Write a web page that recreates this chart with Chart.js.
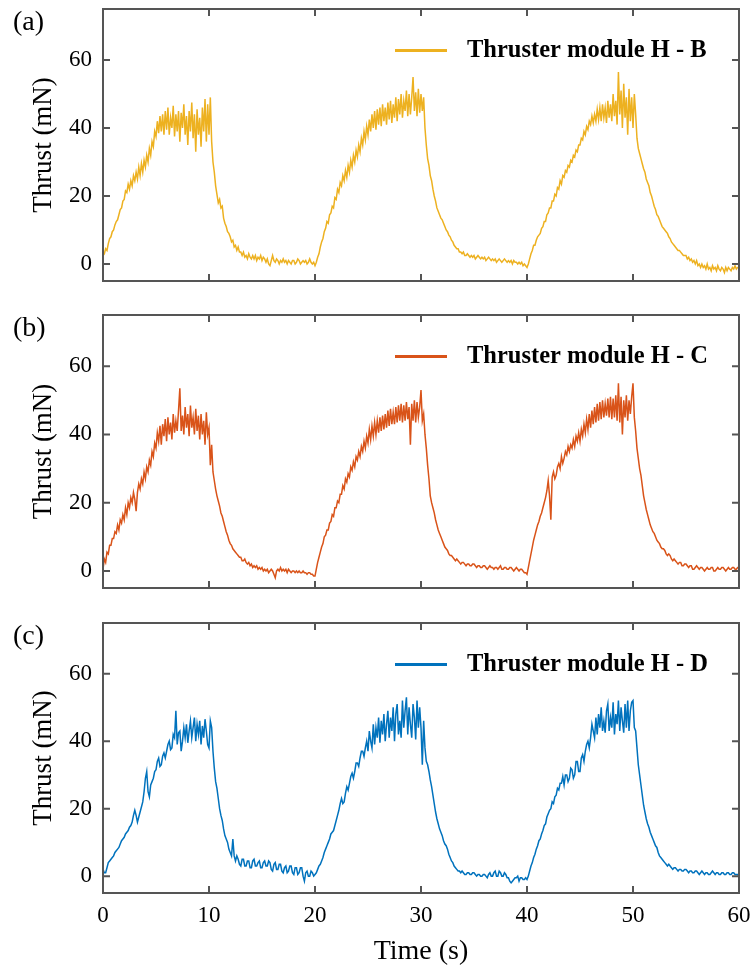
<!DOCTYPE html>
<html>
<head>
<meta charset="utf-8">
<script src="https://cdn.jsdelivr.net/npm/chart.js@4.4.1/dist/chart.umd.min.js"></script>
<style>
  body { margin: 0; background: #fff; }
  #wrap { position: relative; width: 751px; height: 974px; }
  #wrap canvas { position: absolute; left: 0; }
</style>
</head>
<body>
<div id="wrap">
  <canvas id="panelA" width="751" height="300" style="top:0px"></canvas>
  <canvas id="panelB" width="751" height="300" style="top:300px"></canvas>
  <canvas id="panelC" width="751" height="374" style="top:600px"></canvas>
</div>
<script>
// sampling: one value every 0.125 s, from 0 to 60 s (10 values per line)
const sampleStep = 0.125;
const xTicks = [0, 10, 20, 30, 40, 50, 60];
const yTicks = [0, 20, 40, 60];
const panelTags = ["(a)", "(b)", "(c)"];
const seriesNames = ["Thruster module H - B", "Thruster module H - C", "Thruster module H - D"];
const seriesColors = ["#EDB120", "#D95319", "#0072BD"];

// Thrust (mN)
const thrustB = [
  2.5, 3, 4.5, 4, 6, 7.5, 8, 9.5, 10, 11.5,
  12.5, 13, 14.5, 16, 16.5, 18.5, 19, 21.5, 21, 23.5,
  22, 24.5, 23, 26, 24.5, 27, 25, 28.5, 26, 29.5,
  27, 30.5, 28.5, 32, 30, 34, 32, 36, 34.5, 39,
  37.5, 42, 38.5, 43.5, 39, 44, 38, 45, 39.5, 46,
  38, 43, 40, 46.5, 37.5, 44, 39, 45, 36, 44.5,
  40, 47, 38, 43.5, 35, 45, 39, 47.5, 37, 44,
  33, 45.5, 38, 43, 34.5, 46, 39, 48.5, 36, 47,
  38, 49, 36, 30, 27, 23, 20.5, 18, 19, 16.5,
  17, 13.5, 12, 11, 9.5, 9, 8, 6.5, 7, 5,
  5.5, 4, 5, 3.5, 3.5, 2.5, 3.5, 2, 2.5, 1.5,
  3, 2, 1.5, 2.5, 1.5, 2.5, 1, 2, 1.5, 2.5,
  1, 2, 1.5, 0.5, 1.5, 0, -0.5, 1, 2.5, 1,
  0.5, 1.5, 1, 0, 1, 0.5, 1.5, 0.5, 1, 0,
  1, 0.5, 0, 1, 1, 0, 0.5, 1.5, 1, 0,
  0.5, 1, 0.5, 1, 0, 0.5, 1.5, 0.5, 0, 0.5,
  -0.5, 0.5, 2, 3, 5, 6.5, 7.5, 9.5, 10.5, 12.5,
  12, 14.5, 15, 17, 16.5, 19.5, 19, 22, 21, 24,
  23, 26, 24.5, 27.5, 25.5, 29, 27, 30.5, 28.5, 32,
  30, 33.5, 31.5, 35, 33, 37, 35, 39, 36.5, 40.5,
  38, 42.5, 39, 44, 40, 45, 39.5, 45.5, 41, 46,
  40.5, 47, 42, 46, 41, 47.5, 42.5, 48, 41.5, 47,
  43, 49, 42, 48.5, 44, 50, 43, 48, 45, 51,
  43.5, 50, 44, 49, 55, 45, 50.5, 43.5, 51.5, 44.5,
  50, 45, 49, 40, 35, 31, 29, 26, 24.5, 22,
  20, 18.5, 16.5, 15.5, 14.5, 13.5, 13, 12, 11, 10,
  9.5, 8.5, 8, 7, 6.5, 5.5, 5, 4.5, 4.5, 3.5,
  3.5, 3, 3.5, 2.5, 2.5, 3, 2.5, 2, 2.5, 2,
  2.5, 1.5, 2, 2.5, 2, 1.5, 2, 1.5, 2, 1,
  1.5, 2, 1.5, 1, 1.5, 1, 1.5, 0.5, 1, 1.5,
  1, 0.5, 1, 1.5, 1, 0.5, 1, 0.5, 1, 0,
  1, 0.5, 0.5, 0, 0.5, 0, 0.5, -0.5, 0, -0.5,
  -1, 0, 1.5, 3, 4, 5.5, 5.5, 7, 8, 8.5,
  9, 10.5, 11, 12.5, 12.5, 14.5, 15, 16.5, 16.5, 18.5,
  18.5, 20.5, 20, 22.5, 22, 24.5, 23.5, 26, 25.5, 27.5,
  27, 29, 28.5, 30.5, 30, 32, 31.5, 33.5, 33, 35,
  35, 37, 36.5, 39, 38, 40.5, 39.5, 42, 41, 43.5,
  41.5, 44, 42, 45.5, 42.5, 46, 42, 47, 43, 46,
  41.5, 48, 43, 47, 42, 50, 43.5, 48, 41, 56.5,
  44, 51, 40, 53, 43, 49, 38, 51.5, 42, 49,
  40, 50, 44, 37, 34, 32.5, 31, 29.5, 28, 27,
  25, 24, 23, 21, 20, 18.5, 17, 16, 14.5, 14,
  13, 12, 11, 10.5, 10, 9.5, 9, 8, 7.5, 6.5,
  6, 5.5, 5, 4.5, 4, 4, 3.5, 3, 2.5, 2.5,
  2.5, 1.5, 2, 1, 1.5, 0.5, 1, 0, 1, -0.5,
  0, -1, 0, -1, -0.5, -1.5, 0, -1.5, -1, -2,
  -0.5, -1.5, -1, -2, -0.5, -1.5, -2, -1, -1.5, -2.5,
  -1, -2, -1, -1.5, -2, -1, -1.5, -0.5, -1.5, -1,
  -1
];

const thrustC = [
  0.5, 3.5, 2.5, 5.5, 5, 7.5, 7.5, 9.5, 9.5, 11.5,
  11, 13.5, 12, 15, 14, 16.5, 15, 18.5, 16.5, 20,
  18.5, 21.5, 20, 23, 21, 17.5, 23, 25.5, 24, 27,
  25.5, 29, 27, 30.5, 29, 32.5, 31, 35, 33.5, 37.5,
  36, 40.5, 38, 42.5, 37, 43, 39.5, 44.5, 38, 45,
  40, 43.5, 38.5, 46, 40.5, 44, 41, 47, 53.5, 41,
  45.5, 40, 48, 42, 46, 39.5, 48.5, 42, 45, 40,
  47.5, 41, 45.5, 38.5, 46, 40, 44, 37, 46.5, 40,
  42, 31, 37, 29, 26.5, 24, 22, 20.5, 19, 17,
  16, 14.5, 13, 11.5, 10.5, 9, 8, 7.5, 6.5, 6,
  5.5, 5, 4.5, 4, 4, 3, 3, 3.5, 2.5, 2,
  2.5, 1.5, 2, 1, 1.5, 1, 1.5, 0.5, 1, 0.5,
  1, 0, 0.5, 0, 0.5, -0.5, 0, 0.5, 0, -1,
  -2, 0, 0.5, 0, 1, 0, 0.5, 0, 0.5, -0.5,
  0.5, 0, -0.5, 0, 0, -0.5, 0, -0.5, 0, -0.5,
  -0.5, 0, -0.5, -0.5, -1, -0.5, -0.5, -1, -1, -1.5,
  -1.5, 0.5, 2.5, 4, 5.5, 7, 8, 10, 10.5, 12,
  12, 14, 14.5, 16.5, 16, 18.5, 18.5, 20.5, 20, 22.5,
  22.5, 25, 24, 27, 26, 28.5, 27.5, 30.5, 29.5, 32,
  30.5, 33.5, 32.5, 35, 33.5, 36.5, 35, 38, 36, 39.5,
  37.5, 41.5, 38.5, 42.5, 39.5, 43.5, 40, 44, 40.5, 45,
  41, 45.5, 41.5, 46, 42, 47, 42.5, 47.5, 43, 46.5,
  43, 48, 43.5, 48.5, 44, 49, 43.5, 48.5, 44, 49.5,
  44.5, 48, 37, 49, 44, 50, 43.5, 49.5, 45, 48,
  53, 44, 46, 40, 36, 31, 27, 22, 20, 18.5,
  17, 15, 13.5, 12, 11, 10, 9, 8, 7, 6.5,
  6, 5, 4.5, 4.5, 4, 3.5, 3, 3.5, 3, 2.5,
  2, 2.5, 2.5, 2, 1.5, 2, 2, 1.5, 1.5, 2,
  2, 1.5, 1, 1.5, 1.5, 1, 1, 1.5, 1.5, 1,
  0.5, 1, 1.5, 1, 1, 0.5, 1, 1, 0.5, 1,
  1.5, 0.5, 0.5, 1, 1, 0.5, 0.5, 1, 1, 0.5,
  0, 0.5, 1, 0.5, 0, 0.5, 0.5, 0, -0.5, -0.5,
  -1, 1, 3, 5, 7, 9, 10.5, 12, 13.5, 14.5,
  16, 17, 18.5, 20, 21.5, 23.5, 26.5, 22, 15, 27.5,
  29, 27, 28, 30.5, 31.5, 30, 33.5, 31.5, 33, 35,
  34, 36.5, 35, 37, 36, 38.5, 36.5, 39.5, 38, 40.5,
  38, 41.5, 39.5, 43, 40.5, 44.5, 41.5, 46, 42, 47,
  43, 48, 43.5, 49, 44, 49.5, 44.5, 50, 45, 49,
  45.5, 50.5, 45, 51, 44.5, 50.5, 45, 51.5, 44, 55,
  43.5, 51, 40, 50, 45, 51.5, 44, 50, 46, 51,
  55, 45, 41, 36, 33, 30, 28, 25, 22, 20,
  18, 16.5, 15, 13.5, 12.5, 11.5, 11, 10, 9, 8.5,
  8, 7, 6.5, 6.5, 6, 5, 4.5, 5, 4.5, 3.5,
  3, 3.5, 3, 2.5, 2, 2.5, 2.5, 1.5, 1.5, 2,
  2, 1.5, 1, 1.5, 1.5, 0.5, 0.5, 1, 1.5, 1,
  0.5, 1, 1, 0.5, 0, 0.5, 1, 0.5, 0.5, 1,
  1, 0, 0, 0.5, 1, 0.5, 0.5, 1, 1, 0.5,
  0, 0.5, 1, 0.5, 0.5, 1, 1, 0.5, 0.5, 1,
  1
];

const thrustD = [
  2, 1, 1, 2.5, 4, 4.5, 5, 5.5, 6, 7,
  7.5, 8, 8.5, 9.5, 10.5, 11, 11.5, 12.5, 13, 13.5,
  14.5, 15, 16, 18, 19.5, 18, 16, 17.5, 19, 20.5,
  22, 25, 29, 31, 25, 23.5, 27, 28, 29, 31,
  31.5, 34, 35, 32.5, 33, 35.5, 36.5, 35, 37, 39,
  40, 37.5, 38, 42, 41, 49, 39, 42.5, 43, 37,
  40, 44, 41, 45, 39.5, 43, 46, 41, 44, 47,
  40, 45, 42, 46, 39, 44.5, 41, 46.5, 43, 39,
  38, 46, 44, 37, 32, 28, 26, 23, 20, 18,
  16.5, 14, 12, 11, 10, 8, 7, 6, 11, 6,
  4.5, 6, 5, 3.5, 3, 5, 5, 3, 3, 4.5,
  4.5, 2.5, 2.5, 4.5, 5, 3, 3, 4, 4.5, 2.5,
  2.5, 4, 4.5, 3, 3, 4.5, 4, 2, 1.5, 3.5,
  4, 2, 2, 3.5, 3.5, 1.5, 1, 2.5, 3, 1,
  1.5, 3, 3, 1, 0.5, 2.5, 2.5, 0.5, 1, 2.5,
  2.5, 0, -1.5, 1, 1.5, 0, 0, 1.5, 1, 0,
  0.5, 1, 2, 3, 3.5, 4.5, 5.5, 7, 8, 9,
  10, 11, 12.5, 13, 13.5, 15, 16.5, 18, 19.5, 21.5,
  23, 21.5, 22, 24.5, 26.5, 25.5, 27.5, 29.5, 30.5, 29,
  31, 33.5, 33.5, 32.5, 35, 37, 37, 35.5, 38, 40,
  37, 43, 40, 38, 45, 39, 44, 41, 47, 39.5,
  46, 42, 48, 40, 45, 49, 41, 47, 43, 50,
  40, 48, 51, 42, 46, 41, 52, 44, 49, 53,
  42, 50, 45, 41, 51, 47, 40.5, 52, 44, 50,
  44, 33, 46, 38, 34, 33, 31, 28.5, 26.5, 24,
  21.5, 19, 17, 15.5, 14, 13, 12, 10.5, 9.5, 9,
  8, 6.5, 5.5, 4.5, 4, 3, 2.5, 2, 1.5, 1.5,
  1, 1.5, 1, 0.5, 0.5, 1, 1, 0.5, 0.5, 1,
  1, 0.5, 0, 0.5, 0.5, 0, 0, 0.5, 0.5, 0,
  -0.5, 0.5, 1, 0, 0, 1, 1.5, 0, 0, 1.5,
  1, 0, 0, 1, 0.5, -0.5, -0.5, -1.5, -2, -1.5,
  -1, -0.5, -0.5, 0, -1.5, -0.5, -0.5, -1, -1, -0.5,
  -1, 0, 1.5, 3, 4, 5.5, 6.5, 8, 9, 10.5,
  11, 12.5, 13.5, 15, 15.5, 17.5, 18.5, 19.5, 20, 22,
  21.5, 23.5, 24, 26, 25.5, 27.5, 27.5, 29.5, 27, 30,
  30, 28, 29, 32, 31.5, 29, 30, 34, 34, 31,
  31, 35, 36, 34, 37, 39, 40, 38, 41, 45,
  43, 41, 47, 42, 48, 44, 50, 43, 46, 42.5,
  49, 51, 43, 47, 44, 51.5, 42, 48, 45, 52,
  43, 50, 46, 42.5, 51, 44, 52, 43, 49, 51.5,
  52, 44, 43, 38, 33, 30, 27, 24, 21, 19,
  17, 15.5, 14.5, 13, 12, 11, 10, 9, 8.5, 7,
  6, 5.5, 5, 4.5, 4, 3.5, 3, 3.5, 3, 2.5,
  2, 2.5, 2.5, 2, 1.5, 2, 2, 1.5, 1.5, 2,
  2, 1.5, 1, 1.5, 1.5, 1, 1, 1.5, 1.5, 1,
  0.5, 1, 1.5, 1, 0.5, 1, 1, 0.5, 0.5, 1,
  1.5, 1, 0.5, 1, 1, 0.5, 0.5, 1, 1, 0.5,
  0.5, 1, 1, 0.5, 0.5, 1, 1, 0.5, 0.5, 0.5,
  0
];

const serif = "'Liberation Serif', 'Times New Roman', serif";
const frameColor = "#555555";

// pair each value with its time
function toPoints(values) {
    return values.map((v, i) => ({ x: i * sampleStep, y: v }));
}

// box, inward ticks, panel tag and legend
const framePlugin = {
    id: "frame",
    afterDatasetsDraw(chart, args, opts) {
        const { ctx, chartArea: a } = chart;
        const xs = chart.scales.x;
        const ys = chart.scales.y;
        ctx.save();
        ctx.strokeStyle = frameColor;
        ctx.lineWidth = 2;
        ctx.strokeRect(a.left, a.top, a.right - a.left, a.bottom - a.top);

        ctx.beginPath();
        xTicks.forEach(t => {
            const px = xs.getPixelForValue(t);
            ctx.moveTo(px, a.bottom);
            ctx.lineTo(px, a.bottom - 7);
            ctx.moveTo(px, a.top);
            ctx.lineTo(px, a.top + 7);
        });
        yTicks.forEach(t => {
            const py = ys.getPixelForValue(t);
            ctx.moveTo(a.left, py);
            ctx.lineTo(a.left + 7, py);
            ctx.moveTo(a.right, py);
            ctx.lineTo(a.right - 7, py);
        });
        ctx.stroke();

        // panel tag
        ctx.fillStyle = "#000";
        ctx.font = "28px " + serif;
        ctx.textAlign = "left";
        ctx.textBaseline = "middle";
        ctx.fillText(opts.tag, 13, a.top + 14);

        // legend
        const ds = chart.data.datasets[0];
        ctx.strokeStyle = ds.borderColor;
        ctx.lineWidth = 3;
        ctx.beginPath();
        ctx.moveTo(a.left + 292, a.top + 41.5);
        ctx.lineTo(a.left + 344, a.top + 41.5);
        ctx.stroke();
        ctx.font = "bold 24.5px " + serif;
        ctx.textBaseline = "alphabetic";
        ctx.fillText(ds.label, a.left + 364, a.top + 47.5);
        ctx.restore();
    }
};

function makePanel(canvasId, values, idx, padTop, xHeight, showX) {
    const ctx = document.getElementById(canvasId).getContext("2d");
    return new Chart(ctx, {
        type: "line",
        data: {
            datasets: [{
                label: seriesNames[idx],
                data: toPoints(values),
                borderColor: seriesColors[idx],
                borderWidth: 1.5,
                pointRadius: 0,
                tension: 0,
                fill: false
            }]
        },
        options: {
            responsive: false,
            animation: false,
            layout: { padding: { top: padTop, right: 12, left: 0, bottom: 0 } },
            plugins: {
                legend: { display: false },
                tooltip: { enabled: false },
                frame: { tag: panelTags[idx] }
            },
            scales: {
                x: {
                    type: "linear",
                    min: 0,
                    max: 60,
                    grid: { display: false, drawTicks: false },
                    border: { display: false },
                    afterBuildTicks: s => { s.ticks = xTicks.map(v => ({ value: v })); },
                    afterFit: s => {
                        s.height = xHeight;
                        s.paddingLeft = 0;
                        s.paddingRight = 0;
                    },
                    ticks: {
                        display: showX,
                        color: "#000",
                        padding: 9,
                        maxRotation: 0,
                        font: { family: serif, size: 23 }
                    },
                    title: {
                        display: showX,
                        text: "Time (s)",
                        color: "#000",
                        padding: { top: 0, bottom: 6 },
                        font: { family: serif, size: 28 }
                    }
                },
                y: {
                    min: -5,
                    max: 75,
                    grid: { display: false, drawTicks: false },
                    border: { display: false },
                    afterBuildTicks: s => { s.ticks = yTicks.map(v => ({ value: v })); },
                    afterFit: s => {
                        s.width = 103;
                        s.paddingTop = 0;
                        s.paddingBottom = 0;
                    },
                    ticks: {
                        color: "#000",
                        padding: 11,
                        font: { family: serif, size: 23 }
                    },
                    title: {
                        display: true,
                        text: "Thrust (mN)",
                        color: "#000",
                        padding: { top: 28, bottom: 0 },
                        font: { family: serif, size: 27 }
                    }
                }
            }
        },
        plugins: [framePlugin]
    });
}

makePanel("panelA", thrustB, 0, 9, 19, false);
makePanel("panelB", thrustC, 1, 15, 12, false);
makePanel("panelC", thrustD, 2, 23, 81, true);
</script>
</body>
</html>
